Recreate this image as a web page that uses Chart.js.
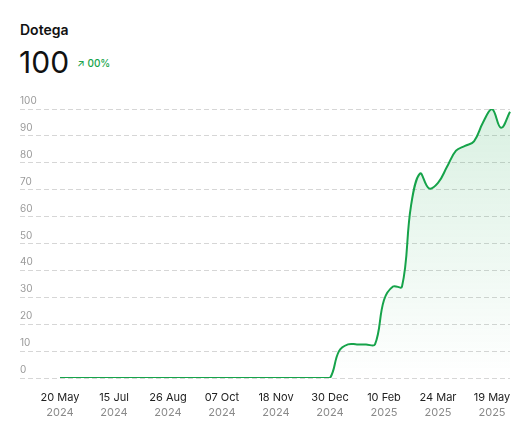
<!DOCTYPE html>
<html>
<head>
<meta charset="utf-8">
<script src="https://cdn.jsdelivr.net/npm/chart.js@4.4.1/dist/chart.umd.min.js"></script>
<style>
  html, body { margin: 0; padding: 0; background: #fff; }
  body { width: 530px; height: 437px; position: relative; overflow: hidden; font-family: Inter, "Noto Sans", sans-serif; }
  #title { position: absolute; left: 20px; top: 20px; font-size: 14px; font-weight: 600; color: #111; line-height: 20px; }
  #value { position: absolute; left: 19px; top: 45px; font-size: 30px; font-weight: 400; color: #111; line-height: 34px; }
  #delta { position: absolute; left: 77px; top: 56px; font-size: 10px; font-weight: 500; color: #16a34a; line-height: 14px; }
  #wrap { position: absolute; left: 0; top: 90px; width: 530px; height: 347px; }
</style>
</head>
<body>
<div id="title">Dotega</div>
<div id="value">100</div>
<div id="delta">↗ 00%</div>
<div id="wrap"><canvas id="c"></canvas></div>
<script>
const categories = [
  "2024-05-20","2024-05-27","2024-06-10","2024-06-24","2024-07-01","2024-07-08",
  "2024-07-15","2024-07-22","2024-07-29","2024-08-05","2024-08-12","2024-08-19",
  "2024-08-26","2024-09-02","2024-09-09","2024-09-16","2024-09-23","2024-09-30",
  "2024-10-07","2024-10-14","2024-10-21","2024-10-28","2024-11-04","2024-11-11",
  "2024-11-18","2024-11-25","2024-12-02","2024-12-09","2024-12-16","2024-12-23",
  "2024-12-30","2025-01-06","2025-01-13","2025-01-20","2025-01-27","2025-02-03",
  "2025-02-10","2025-02-17","2025-02-24","2025-03-03","2025-03-10","2025-03-17",
  "2025-03-24","2025-03-31","2025-04-14","2025-04-21","2025-04-28","2025-05-05",
  "2025-05-19","2025-05-26","2025-06-02"
];
const values = [
  0,0,0,0,0,0, 0,0,0,0,0,0, 0,0,0,0,0,0, 0,0,0,0,0,0, 0,0,0,0,0,0,
  0,10,12.5,12.5,12.5,12.5,
  29,34,34,64,76,70.5,
  72.5,78.5,84.5,86.3,88,95,
  100,93,99
];
const yTicks = [0,10,20,30,40,50,60,70,80,90,100];
const monthNames = ["Jan","Feb","Mar","Apr","May","Jun","Jul","Aug","Sep","Oct","Nov","Dec"];
const labelEvery = 6;

function dayMonth(s){ const p = s.split("-"); return p[2] + " " + monthNames[parseInt(p[1],10)-1]; }
function yearOf(s){ return s.split("-")[0]; }

const ctx = document.getElementById("c").getContext("2d");
const green = "#16a34a";

new Chart(ctx, {
  type: "line",
  data: {
    labels: categories,
    datasets: [{
      data: values,
      borderColor: green,
      borderWidth: 2,
      pointRadius: 0,
      pointHoverRadius: 0,
      tension: 0.4,
      fill: "origin",
      backgroundColor: function(context){
        const chart = context.chart;
        const area = chart.chartArea;
        if (!area) return "rgba(22,163,74,0.1)";
        const g = chart.ctx.createLinearGradient(0, area.top, 0, area.bottom);
        g.addColorStop(0, "rgba(22,163,74,0.16)");
        g.addColorStop(1, "rgba(22,163,74,0.0)");
        return g;
      }
    }]
  },
  options: {
    responsive: true,
    maintainAspectRatio: false,
    animation: false,
    layout: { padding: { left: 20, right: 20, top: 19, bottom: 16 } },
    plugins: { legend: { display: false }, tooltip: { enabled: false } },
    scales: {
      x: {
        type: "category",
        position: "bottom",
        weight: 0,
        afterFit: function(scale){ scale.height = 26; },
        grid: { display: false, drawTicks: false },
        border: { display: false },
        ticks: {
          autoSkip: false, maxRotation: 0, minRotation: 0, padding: 13,
          color: "#222", font: { family: "Inter", size: 11 },
          callback: function(v, i){ return i % labelEvery === 0 ? dayMonth(categories[i]) : null; }
        }
      },
      x2: {
        type: "category",
        position: "bottom",
        weight: 1,
        afterFit: function(scale){ scale.height = 17; },
        grid: { display: false, drawTicks: false },
        border: { display: false },
        ticks: {
          autoSkip: false, maxRotation: 0, minRotation: 0, padding: 2,
          color: "#8a8a8a", font: { family: "Inter", size: 11 },
          callback: function(v, i){ return i % labelEvery === 0 ? yearOf(categories[i]) : null; }
        }
      },
      y: {
        min: 0, max: 100,
        afterBuildTicks: function(scale){ scale.ticks = yTicks.map(v => ({ value: v })); },
        afterFit: function(scale){ scale.width = 40; },
        grid: { color: "#d6d6d6", lineWidth: 1, drawTicks: true, tickLength: 40, tickColor: "#d6d6d6", tickBorderDash: [5,3] },
        border: { display: false, dash: [5,3] },
        ticks: {
          crossAlign: "far", labelOffset: -8, padding: 0,
          color: "#9a9a9a", font: { family: "Inter", size: 10 }
        }
      }
    }
  }
});
</script>
</body>
</html>
